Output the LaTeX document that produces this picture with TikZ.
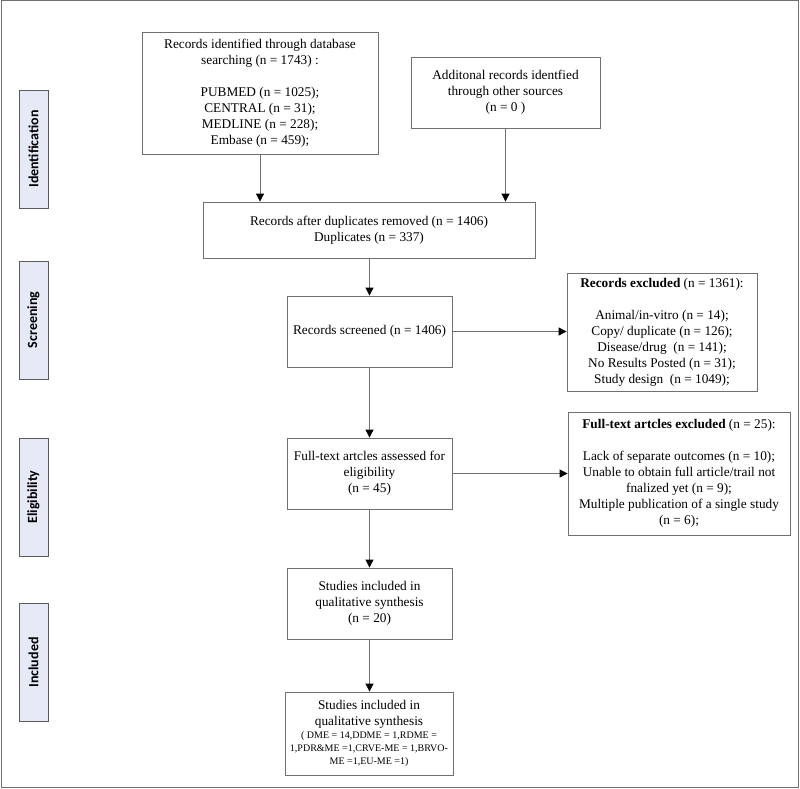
\documentclass[tikz,border=0pt]{standalone}
\usepackage{fontspec}
\setmainfont{Liberation Serif}
\newfontfamily\labfont{Carlito}
\usetikzlibrary{arrows.meta}
\definecolor{edgegray}{HTML}{707070}
\definecolor{labfill}{HTML}{E6EAF6}
\newcommand\smallfnt{\fontsize{10}{12}\selectfont}
\begin{document}
\begin{tikzpicture}[x=1pt,y=-1pt,
  box/.style={draw=edgegray,line width=0.8pt,fill=white,align=center,inner sep=0pt,
     font=\fontsize{13.3}{16}\selectfont},
  phase/.style={draw=edgegray!80!black,line width=0.8pt,fill=labfill,minimum width=29pt,
     minimum height=118pt,inner sep=0pt},
  phasetext/.style={font=\labfont\bfseries\fontsize{14}{16}\selectfont,rotate=90},
  arr/.style={draw=edgegray,line width=0.8pt,-{Triangle[width=8pt,length=8pt,fill=black,color=black]}}]
\useasboundingbox (0,0) rectangle (800,789);
\draw[edgegray,line width=1pt] (1,1) rectangle (798.5,787.5);

% phase labels
\node[phase] (pid) at (33.5,149) {};
\node[phasetext] (tid) at (pid.center) {Identification};
\node[phase] (psc) at (33.5,320) {};
\node[phasetext] (tsc) at (psc.center) {Screening};
\node[phase] (pel) at (33.5,497) {};
\node[phasetext] (tel) at (pel.center) {Eligibility};
\node[phase] (pin) at (33.5,662.5) {};
\node[phasetext] (tin) at (pin.center) {Included};

% boxes
\node[box,minimum width=236pt,minimum height=122pt] (b1) at (260,93)
  {Records identified through database\\searching (n = 1743) :\\[16pt]PUBMED (n = 1025);\\CENTRAL (n = 31);\\MEDLINE (n = 228);\\Embase (n = 459);};
\node[box,minimum width=189pt,minimum height=71pt] (b2) at (505.5,92.5)
  {Additonal records identfied\\through other sources\\(n = 0 )};
\node[box,minimum width=332pt,minimum height=56pt] (b3) at (369,230)
  {Records after duplicates removed (n = 1406)\\Duplicates (n = 337)};
\node[box,minimum width=165pt,minimum height=71pt] (b4) at (369.5,331.5)
  {Records screened (n = 1406)};
\node[box,minimum width=190pt,minimum height=118pt] (b5) at (662,332)
  {\textbf{Records excluded} (n = 1361):\\[16pt]Animal/in-vitro (n = 14);\\Copy/ duplicate (n = 126);\\Disease/drug~ (n = 141);\\No Results Posted (n = 31);\\Study design~ (n = 1049);};
\node[box,minimum width=165pt,minimum height=71pt] (b6) at (369.5,473.5)
  {Full-text artcles assessed for\\eligibility\\(n = 45)};
\node[box,minimum width=222pt,minimum height=123pt] (b7) at (679,473.5)
  {\textbf{Full-text artcles excluded} (n = 25):\\[16pt]Lack of separate outcomes (n = 10);\\Unable to obtain full article/trail not\\fnalized yet (n = 9);\\Multiple publication of a single study\\(n = 6);};
\node[box,minimum width=165pt,minimum height=71pt] (b8) at (369.5,603.5)
  {Studies included in\\qualitative synthesis\\(n = 20)};
\node[box,minimum width=168pt,minimum height=83pt] (b9) at (369,733.5)
  {Studies included in\\qualitative synthesis\\[-3pt]\smallfnt ( DME = 14,DDME = 1,RDME =\\[-3pt]\smallfnt 1,PDR\&ME =1,CRVE-ME = 1,BRVO-\\[-3pt]\smallfnt ME =1,EU-ME =1)};

% connectors
\draw[arr] (b1.south) -- (b1.south |- b3.north);
\draw[arr] (b2.south) -- (b2.south |- b3.north);
\draw[arr] (b3.south -| b4.north) -- (b4.north);
\draw[arr] (b4.east) -- (b4.east -| b5.west);
\draw[arr] (b4.south) -- (b6.north);
\draw[arr] (b6.east) -- (b6.east -| b7.west);
\draw[arr] (b6.south) -- (b8.north);
\draw[arr] (b8.south) -- (b8.south |- b9.north);
\end{tikzpicture}
\end{document}
